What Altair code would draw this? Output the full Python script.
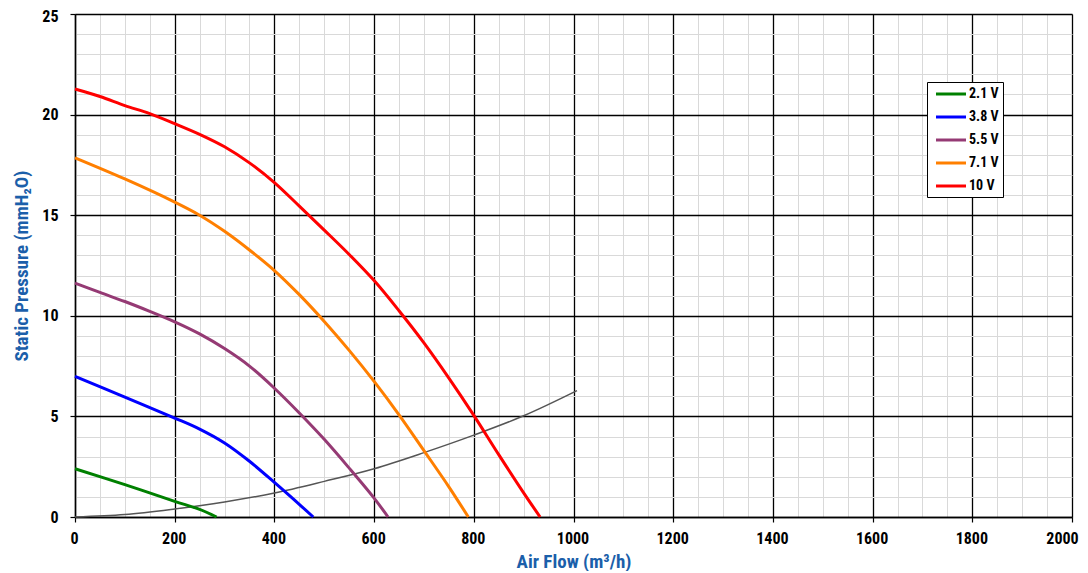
import altair as alt
import pandas as pd

# ---- data ----
series_names = ["2.1 V", "3.8 V", "5.5 V", "7.1 V", "10 V"]
series_colors = ["#008000", "#0000FF", "#953A74", "#FF7F00", "#FF0000"]

flow_21 = [0, 100, 200, 250, 284]
pres_21 = [2.40, 1.61, 0.78, 0.38, 0.0]

flow_38 = [0, 100, 200, 250, 300, 350, 400, 440, 478]
pres_38 = [6.99, 5.96, 4.92, 4.37, 3.68, 2.77, 1.72, 0.85, 0.0]

flow_55 = [0, 50, 100, 150, 200, 250, 300, 350, 400, 450, 500, 550, 600, 628]
pres_55 = [11.62, 11.16, 10.71, 10.22, 9.7, 9.1, 8.37, 7.5, 6.4, 5.17, 3.86, 2.43, 0.94, 0.0]

flow_71 = [0, 100, 200, 250, 300, 350, 400, 450, 500, 550, 600, 650, 700, 750, 789]
pres_71 = [17.85, 16.8, 15.65, 15.0, 14.2, 13.27, 12.25, 11.05, 9.72, 8.28, 6.74, 5.08, 3.3, 1.5, 0.0]

flow_10 = [0, 50, 100, 150, 200, 250, 300, 350, 400, 450, 500, 550, 600, 650, 700, 750, 800, 850, 900, 933]
pres_10 = [21.27, 20.9, 20.45, 20.05, 19.55, 19.02, 18.4, 17.6, 16.62, 15.45, 14.26, 13.05, 11.75,
           10.25, 8.65, 6.9, 5.05, 3.1, 1.2, 0.0]

sys_flow = [0, 100, 200, 300, 400, 500, 600, 700, 800, 900, 1007]
sys_pres = [0.0, 0.12, 0.40, 0.75, 1.19, 1.77, 2.40, 3.20, 4.07, 5.03, 6.28]

x_ticks = list(range(0, 2001, 50))
y_ticks = list(range(0, 26, 1))

# ---- build table ----
rows = []
for name, fl, pr in zip(series_names,
                        [flow_21, flow_38, flow_55, flow_71, flow_10],
                        [pres_21, pres_38, pres_55, pres_71, pres_10]):
    for i, (f, p) in enumerate(zip(fl, pr)):
        rows.append({"series": name, "flow": f, "pres": p, "order": i})
curves = pd.DataFrame(rows)
system = pd.DataFrame({"flow": sys_flow, "pres": sys_pres, "order": list(range(len(sys_flow)))})

FONT = "Liberation Sans Narrow, Arial Narrow, Roboto Condensed, DejaVu Sans Condensed, sans-serif"
TITLE_COLOR = "#1B5FAA"

x_axis = alt.Axis(
    values=x_ticks,
    format="d",
    labelExpr="datum.value % 200 == 0 ? datum.label : ''",
    labelOverlap=False,
    labelFlush=False,
    labelOffset={"condition": {"test": "datum.value == 2000", "value": -10}, "value": -1},
    labelFont=FONT, labelFontSize=16, labelFontWeight="bold", labelColor="black",
    labelPadding=8,
    tickSize=5,
    tickColor={"condition": {"test": "datum.value % 200 == 0", "value": "black"}, "value": "transparent"},
    tickWidth=1.2,
    gridColor={"condition": {"test": "datum.value % 200 == 0", "value": "#000000"}, "value": "#d9d9d9"},
    gridWidth={"condition": {"test": "datum.value % 200 == 0", "value": 1.3}, "value": 1},
    domainColor="black", domainWidth=1.5,
    title="Air Flow (m³/h)",
    titleFont=FONT, titleFontSize=19, titleFontWeight="bold", titleColor=TITLE_COLOR,
    titlePadding=6,
)
y_axis = alt.Axis(
    values=y_ticks,
    format="d",
    labelExpr="datum.value % 5 == 0 ? datum.label : ''",
    labelOverlap=False,
    labelFlush=False,
    labelOffset={"condition": {"test": "datum.value == 25", "value": 2}, "value": 0},
    labelFont=FONT, labelFontSize=16, labelFontWeight="bold", labelColor="black",
    labelPadding=12,
    tickSize=5,
    tickColor={"condition": {"test": "datum.value % 5 == 0", "value": "black"}, "value": "transparent"},
    tickWidth=1.2,
    gridColor={"condition": {"test": "datum.value % 5 == 0", "value": "#000000"}, "value": "#d9d9d9"},
    gridWidth={"condition": {"test": "datum.value % 5 == 0", "value": 1.3}, "value": 1},
    domainColor="black", domainWidth=1.5,
    title="Static Pressure (mmH₂O)",
    titleFont=FONT, titleFontSize=19, titleFontWeight="bold", titleColor=TITLE_COLOR,
    titlePadding=10,
)

x_enc = alt.X("flow:Q", scale=alt.Scale(domain=[0, 2000], nice=False, zero=False), axis=x_axis)
y_enc = alt.Y("pres:Q", scale=alt.Scale(domain=[0, 25], nice=False, zero=False), axis=y_axis)

system_layer = alt.Chart(system).mark_line(color="#555555", strokeWidth=1.5, interpolate="catmull-rom").encode(
    x=x_enc, y=y_enc, order="order:Q"
)

curve_layer = alt.Chart(curves).mark_line(strokeWidth=3, interpolate="catmull-rom").encode(
    x=x_enc, y=y_enc,
    color=alt.Color(
        "series:N",
        scale=alt.Scale(domain=series_names, range=series_colors),
        sort=series_names,
        legend=alt.Legend(
            title=None, orient="none", legendX=852, legendY=68,
            symbolType="M-0.43,0H3.86", symbolSize=196, symbolStrokeWidth=3,
            labelFont=FONT, labelFontSize=14, labelFontWeight="bold", labelColor="black",
            labelOffset=21.5, padding=3.5, rowPadding=7,
            strokeColor="black", fillColor="white",
        ),
    ),
    detail="series:N",
    order="order:Q",
)

chart = alt.layer(system_layer, curve_layer).properties(
    width=997, height=503,
    padding={"left": 67, "top": 6, "right": 8, "bottom": 54},
    autosize=alt.AutoSizeParams(type="none"),
).configure_view(stroke=None).configure(background="white")

chart.save("out.html", embed_options={"renderer": "svg", "actions": False})
